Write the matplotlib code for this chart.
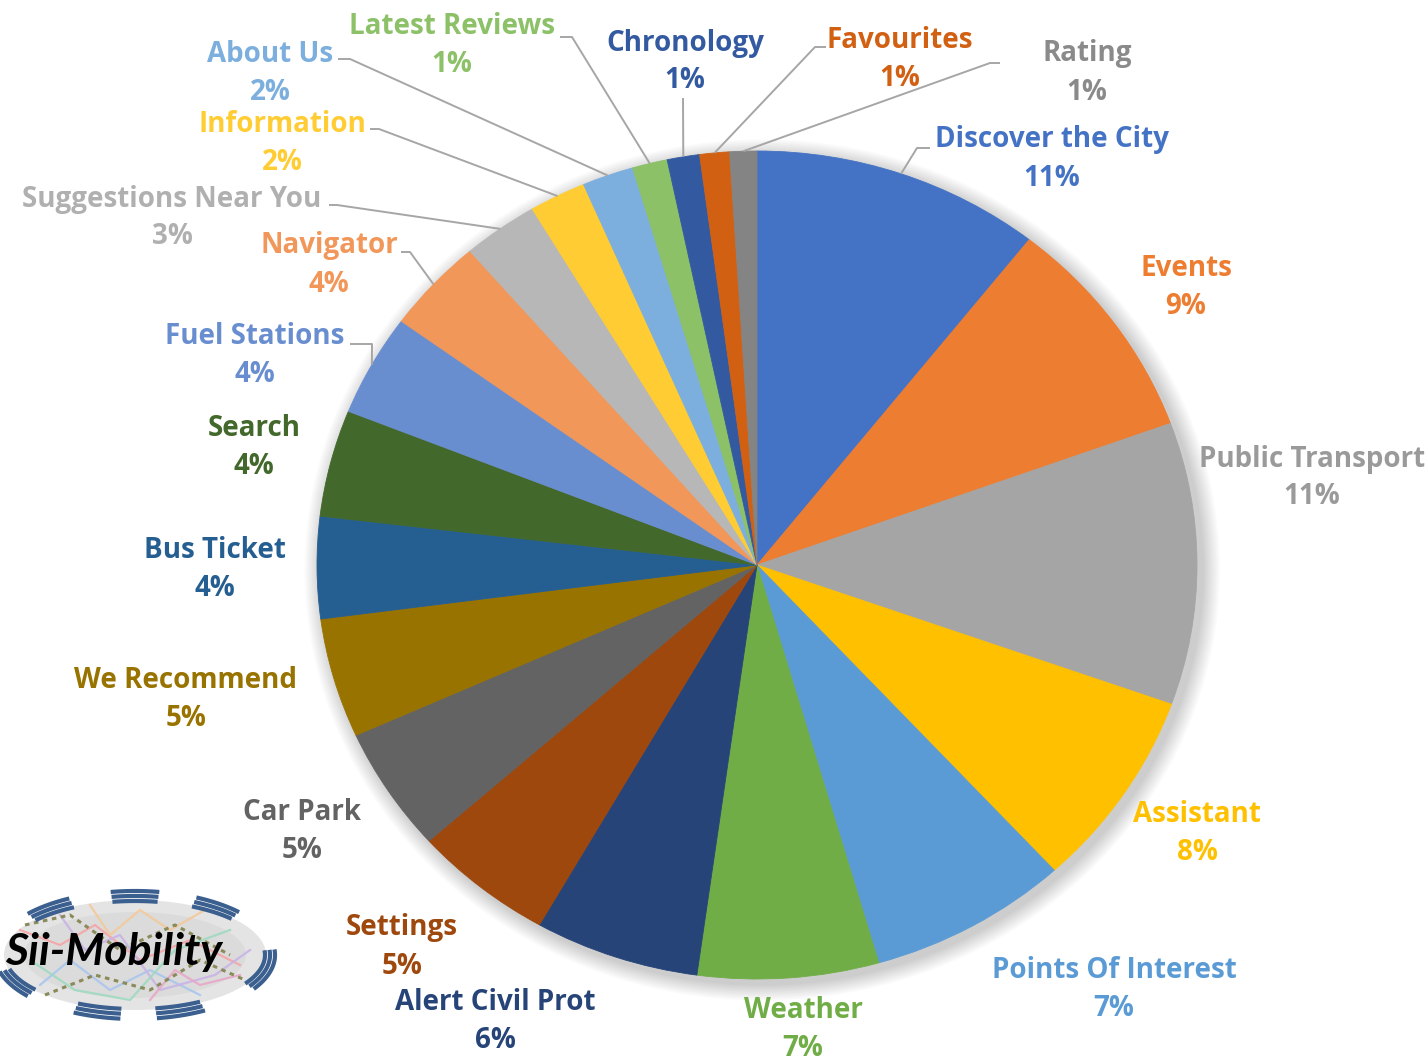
import matplotlib
matplotlib.use("Agg")
import matplotlib.pyplot as plt
import numpy as np
from matplotlib.patches import Ellipse

# ---- data -------------------------------------------------------------
features = ["Discover the City", "Events", "Public Transport", "Assistant",
            "Points Of Interest", "Weather", "Alert Civil Prot", "Settings",
            "Car Park", "We Recommend", "Bus Ticket", "Search", "Fuel Stations",
            "Navigator", "Suggestions Near You", "Information", "About Us",
            "Latest Reviews", "Chronology", "Favourites", "Rating"]
usage = [10.7, 8.9, 11.1, 7.8, 7.4, 6.7, 6.1, 5.2, 4.9, 4.7, 4.0, 4.2, 4.0,
         3.7, 2.8, 2.1, 1.9, 1.3, 1.2, 1.1, 1.0]
colors = ["#4472C4", "#ED7D31", "#A5A5A5", "#FFC000", "#5B9BD5", "#70AD47",
          "#264478", "#9E480E", "#636363", "#997300", "#255E91", "#43682B",
          "#698ED0", "#F1975A", "#B7B7B7", "#FFCD33", "#7CAFDD", "#8CC168",
          "#335AA1", "#D26012", "#848484"]
label_colors = list(colors)
label_colors[2] = "#9a9a9a"
label_colors[14] = "#b0b0b0"
label_colors[20] = "#8a8a8a"

# ---- layout (pixels, origin top-left) ----------------------------------
W, H = 1427, 1064
CX, CY, RX, RY = 757, 565, 440, 414
LINE_GAP = 38   # distance between the name line and the percent line
TEXT_DY = 3     # nudge so glyphs sit on the intended centre line

label_pos = {
    "Discover the City": (1052, 156), "Events": (1186, 285),
    "Public Transport": (1312, 475), "Assistant": (1197, 830),
    "Points Of Interest": (1114, 987), "Weather": (803, 1027),
    "Alert Civil Prot": (495, 1018), "Settings": (402, 944),
    "Car Park": (302, 829), "We Recommend": (186, 696),
    "Bus Ticket": (215, 566), "Search": (254, 445),
    "Fuel Stations": (255, 352), "Navigator": (329, 262),
    "Suggestions Near You": (172, 215), "Information": (282, 140),
    "About Us": (270, 70), "Latest Reviews": (452, 43),
    "Chronology": (685, 59), "Favourites": (900, 56), "Rating": (1087, 70),
}
# leader lines: elbow point and end point next to the label
leaders = {
    "Discover the City": [(917, 148), (930, 148)],
    "Fuel Stations": [(372, 344), (350, 344)],
    "Navigator": [(410, 252), (401, 252)],
    "Suggestions Near You": [(337, 205), (329, 205)],
    "Information": [(379, 129), (370, 129)],
    "About Us": [(350, 59), (338, 59)],
    "Latest Reviews": [(572, 37), (560, 37)],
    "Chronology": [(683, 98), (683, 98)],
    "Favourites": [(815, 47), (826, 47)],
    "Rating": [(990, 63), (1000, 63)],
}

FONT = ["Open Sans", "DejaVu Sans"]

fig = plt.figure(figsize=(W / 100, H / 100), dpi=100)
fig.patch.set_facecolor("white")

# ---- pie ---------------------------------------------------------------
ax = fig.add_axes([0, 0, 1, 1])
wedges, _ = ax.pie(usage, colors=colors, startangle=90, counterclock=False,
                   radius=1, center=(0, 0),
                   wedgeprops=dict(linewidth=0.6))
for w in wedges:
    w.set_edgecolor(w.get_facecolor())
    w.set_zorder(3)

# soft drop shadow behind the pie
for i in range(10):
    grow = 0.004 * (i + 1)
    sh = Ellipse((0.012, -0.012), 2 * (1 + grow), 2 * (1 + grow),
                 facecolor="black", edgecolor="none", alpha=0.018, zorder=1)
    ax.add_patch(sh)

ax.set_aspect("auto")
ax.set_xlim(-CX / RX, (W - CX) / RX)
ax.set_ylim(-(H - CY) / RY, CY / RY)
ax.axis("off")

# ---- overlay in pixel coordinates for labels, leaders, logo ------------
ov = fig.add_axes([0, 0, 1, 1])
ov.set_xlim(0, W)
ov.set_ylim(H, 0)
ov.axis("off")
ov.patch.set_alpha(0)

total = sum(usage)
text_kw = dict(ha="center", va="center", fontsize=20, fontweight="bold",
               family=FONT)
for name, val, w, lc in zip(features, usage, wedges, label_colors):
    pct = round(val / total * 100)
    x, y = label_pos[name]
    y += TEXT_DY
    ov.text(x, y - LINE_GAP / 2, name, color=lc, **text_kw)
    ov.text(x, y + LINE_GAP / 2, f"{pct:d}%", color=lc, **text_kw)
    if name in leaders:
        mid = np.deg2rad((w.theta1 + w.theta2) / 2)
        ex, ey = CX + RX * np.cos(mid), CY - RY * np.sin(mid)
        (bx, by), (tx, ty) = leaders[name]
        ov.plot([ex, bx, tx], [ey, by, ty], color="#a6a6a6", lw=1.4,
                solid_capstyle="butt", zorder=2)

# ---- Sii-Mobility logo -------------------------------------------------
LX, LY, LA, LB = 135, 955, 131, 55
ov.add_patch(Ellipse((LX, LY), 2 * LA, 2 * LB, facecolor="#e4e4e4",
                     edgecolor="none", zorder=1))
ov.add_patch(Ellipse((LX, LY), 2 * LA - 40, 2 * LB - 24, facecolor="#d6d6d6",
                     edgecolor="none", alpha=0.6, zorder=1))

map_lines = [
    ([20, 60, 95, 140, 190, 240], [930, 945, 925, 960, 940, 965], "#f4a6a6"),
    ([40, 70, 110, 150, 200], [985, 960, 990, 970, 995], "#a9c6ef"),
    ([60, 85, 120, 160, 215, 250], [915, 950, 935, 990, 975, 950], "#c9b3e6"),
    ([30, 75, 130, 175, 230], [960, 990, 1000, 950, 930], "#9ed9c0"),
    ([90, 110, 140, 170, 205], [905, 935, 910, 930, 910], "#f3c99a"),
    ([150, 175, 200, 240], [1000, 970, 985, 975], "#e7a8c8"),
]
for xs, ys, c in map_lines:
    ov.plot(xs, ys, color=c, lw=1.6, alpha=0.9, zorder=1.5)
rail_lines = [
    ([25, 70, 120, 175, 230], [925, 915, 950, 925, 955]),
    ([45, 95, 150, 200, 245], [995, 975, 990, 960, 980]),
]
for xs, ys in rail_lines:
    ov.plot(xs, ys, color="#8a8a5a", lw=2.2, ls=(0, (1.5, 1.5)), zorder=1.6)

# striped frame segments around the logo (visual angles, degrees)
arc_spans = [(118, 140), (80, 100), (42, 64), (-32, 5), (-116, -96),
             (-81, -60), (-165, -140)]
for a0, a1 in arc_spans:
    t = np.deg2rad(np.linspace(a0, a1, 40))
    for off in (9, 4, -1):
        ov.plot(LX + (LA + off) * np.cos(t), LY - (LB + off) * np.sin(t),
                color="#3b5f8e", lw=3.0, solid_capstyle="butt", zorder=2)

ov.text(114, 952, "Sii-Mobility", ha="center", va="center", fontsize=32,
        fontweight="bold", fontstyle="italic",
        family=["Lato", "DejaVu Sans"], color="black", zorder=3)

fig.savefig("out.png", dpi=100, facecolor="white")
